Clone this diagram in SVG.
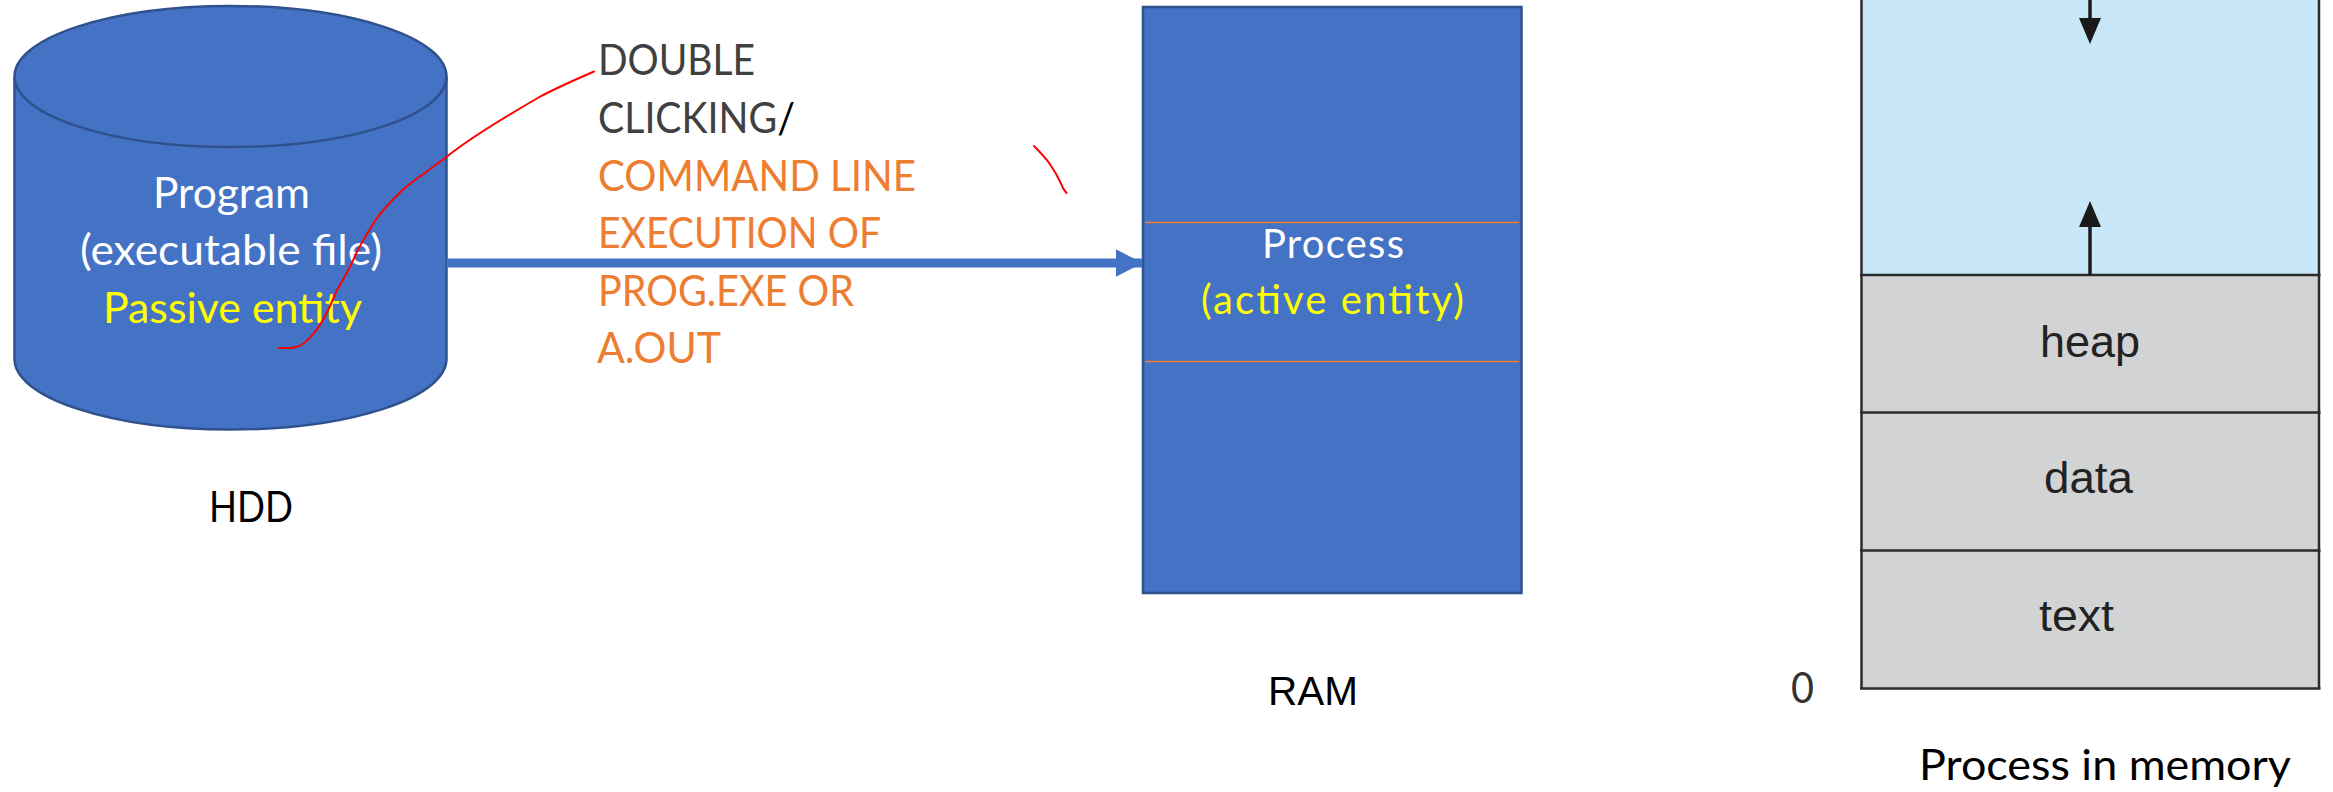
<svg xmlns="http://www.w3.org/2000/svg" width="2333" height="792" viewBox="0 0 2333 792">
  <style>
    .cal { font-family: Lato, "Open Sans", "Liberation Sans", sans-serif; }
    .helv { font-family: "Liberation Sans", Arial, sans-serif; }
    .blue { fill: #4472C4; stroke: #2F528F; stroke-width: 2.5; }
    .white { fill: #FFFFFF; }
    .yellow { fill: #FFFF00; }
    .grey-txt { fill: #404040; }
    .orange { fill: #ED7D31; }
    .seg { stroke: #2B2B2B; stroke-width: 2.5; }
    .ink { fill: none; stroke: #FF0000; stroke-width: 2; stroke-linecap: round; stroke-linejoin: round; }
    .mem-arrow { stroke: #1A1A1A; stroke-width: 3.5; fill: none; }
  </style>
  <defs>
    <marker id="blue-head" markerUnits="userSpaceOnUse" markerWidth="30" markerHeight="30" refX="27" refY="14" orient="auto">
      <path d="M0,0 L27,14 L0,28 Z" fill="#4472C4"/>
    </marker>
  </defs>

  <rect width="2333" height="792" fill="#FFFFFF"/>

  <!-- Hard disk cylinder -->
  <g id="hdd">
    <path class="blue" d="M14.5,77 L14.5,359 A216,70.5 0 0 0 446.5,359 L446.5,77"/>
    <ellipse class="blue" cx="230.5" cy="76.5" rx="216" ry="70.5"/>
    <text class="cal white" x="153" y="208" font-size="42" textLength="157" lengthAdjust="spacingAndGlyphs">Program</text>
    <text class="cal white" x="80" y="265" font-size="42" textLength="302" lengthAdjust="spacingAndGlyphs">(executable file)</text>
    <text class="cal yellow" x="103" y="323" font-size="42" textLength="259" lengthAdjust="spacingAndGlyphs">Passive entity</text>
  </g>

  <g id="hdd-label">
    <text class="cal" x="209" y="522" font-size="42" fill="#000000" textLength="84" lengthAdjust="spacingAndGlyphs">HDD</text>
  </g>

  <!-- Launch description -->
  <g id="launch-label">
    <text class="cal grey-txt" x="598" y="75" font-size="42" textLength="157" lengthAdjust="spacingAndGlyphs">DOUBLE</text>
    <text class="cal grey-txt" x="598" y="133" font-size="42" textLength="197" lengthAdjust="spacingAndGlyphs">CLICKING<tspan fill="#000000">/</tspan></text>
    <text class="cal orange" x="598" y="191" font-size="42" textLength="318" lengthAdjust="spacingAndGlyphs">COMMAND LINE</text>
    <text class="cal orange" x="598" y="248" font-size="42" textLength="283" lengthAdjust="spacingAndGlyphs">EXECUTION OF</text>
    <text class="cal orange" x="598" y="306" font-size="42" textLength="256" lengthAdjust="spacingAndGlyphs">PROG.EXE OR</text>
    <text class="cal orange" x="597" y="363" font-size="42" textLength="124" lengthAdjust="spacingAndGlyphs">A.OUT</text>
  </g>

  <!-- Main memory -->
  <g id="ram">
    <rect class="blue" x="1143" y="7" width="378.5" height="586"/>
    <line x1="1145" y1="222.5" x2="1519" y2="222.5" stroke="#ED7D31" stroke-width="1.5"/>
    <line x1="1145" y1="361.5" x2="1519" y2="361.5" stroke="#ED7D31" stroke-width="1.5"/>
    <text class="cal white" x="1262" y="258" font-size="40" textLength="142" lengthAdjust="spacing">Process</text>
    <text class="cal yellow" x="1201" y="314" font-size="40" textLength="263" lengthAdjust="spacing">(active entity)</text>
  </g>

  <g id="ram-label">
    <text class="helv" x="1268" y="705" font-size="40" fill="#000000" textLength="90" lengthAdjust="spacingAndGlyphs">RAM</text>
  </g>

  <!-- Process address space -->
  <g id="process-memory">
    <rect x="1861.5" y="-5" width="457.5" height="280" fill="#C7E6F8"/>
    <rect x="1861.5" y="275" width="457.5" height="413.5" fill="#D2D3D5"/>
    <line class="seg" x1="1861.5" y1="-5" x2="1861.5" y2="688.5"/>
    <line class="seg" x1="2319" y1="-5" x2="2319" y2="688.5"/>
    <line class="seg" x1="1860" y1="275" x2="2320.5" y2="275"/>
    <line class="seg" x1="1860" y1="412.5" x2="2320.5" y2="412.5"/>
    <line class="seg" x1="1860" y1="550.5" x2="2320.5" y2="550.5"/>
    <line class="seg" x1="1860" y1="688.5" x2="2320.5" y2="688.5"/>
    <line class="mem-arrow" x1="2090" y1="-2" x2="2090" y2="22"/>
    <path d="M2079,18 L2101,18 L2090,44 Z" fill="#1A1A1A"/>
    <line class="mem-arrow" x1="2090" y1="275" x2="2090" y2="222"/>
    <path d="M2079,227 L2101,227 L2090,201 Z" fill="#1A1A1A"/>
    <text class="helv" x="2040" y="357" font-size="45" fill="#222222" textLength="100" lengthAdjust="spacingAndGlyphs">heap</text>
    <text class="helv" x="2044" y="493" font-size="45" fill="#222222" textLength="89" lengthAdjust="spacingAndGlyphs">data</text>
    <text class="helv" x="2039" y="631" font-size="45" fill="#222222" textLength="75" lengthAdjust="spacingAndGlyphs">text</text>
    <text class="cal" x="1791" y="703" font-size="42" fill="#333333" textLength="23" lengthAdjust="spacingAndGlyphs">0</text>
    <text class="cal" x="1919" y="780" font-size="42" fill="#000000" textLength="372" lengthAdjust="spacingAndGlyphs">Process in memory</text>
  </g>

  <!-- Connectors -->
  <g id="connectors">
    <line x1="446.5" y1="263" x2="1142.5" y2="263" stroke="#4472C4" stroke-width="9" marker-end="url(#blue-head)"/>
  </g>

  <!-- Hand-drawn pen marks -->
  <g id="pen-marks">
    <path class="ink" d="M594,71.5 C570,82 552,90 539.5,97 C510,114 475,135 451.5,153 C430,170 412,181 401.5,191 C389,203 381,212 375,221 C366,235 361,243 356,254 C349,270 343,280 337,290 C330,307 322,324 314,333 C306,343 300,347 294.5,347.5 C288,348.5 283,348 279,348"/>
    <path class="ink" d="M1034,146 C1042,154 1047,160 1049.5,163.5 C1054,170 1058,177 1061,183.5 C1062,187 1064,190 1066.5,193"/>
  </g>
</svg>
